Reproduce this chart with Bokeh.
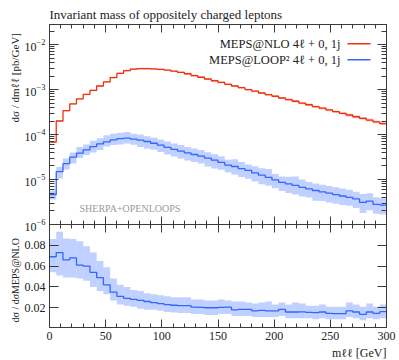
import numpy as np
from bokeh.plotting import figure
from bokeh.models import (Range1d, LinearAxis, LogAxis, Label, BoxAnnotation, Title,
                          FixedTicker, LogTicker, ColumnDataSource, CustomJSTickFormatter)
from bokeh.layouts import column
from bokeh.embed import file_html
from bokeh.resources import INLINE

# ---------------- data ----------------
BIN_LOW = [0, 6, 12, 18, 24, 30, 36, 42, 48, 54, 60, 66, 72, 78, 84, 90, 96, 102, 108, 114,
           120, 126, 132, 138, 144, 150, 156, 162, 168, 174, 180, 186, 192, 198, 204, 210,
           216, 222, 228, 234, 240, 246, 252, 258, 264, 270, 276, 282, 288, 294]
BIN_W = 6

MEPS_NLO = [6.8e-5, 2.0e-4, 3.4e-4, 4.8e-4, 6.2e-4, 7.8e-4, 9.6e-4, 1.2e-3, 1.48e-3, 1.85e-3,
            2.3e-3, 2.65e-3, 2.85e-3, 2.93e-3, 2.93e-3, 2.88e-3, 2.8e-3, 2.7e-3, 2.57e-3, 2.42e-3,
            2.25e-3, 2.05e-3, 1.88e-3, 1.72e-3, 1.57e-3, 1.44e-3, 1.31e-3, 1.2e-3, 1.1e-3, 1.0e-3,
            9.2e-4, 8.4e-4, 7.7e-4, 7.1e-4, 6.5e-4, 6.0e-4, 5.5e-4, 5.0e-4, 4.6e-4, 4.2e-4,
            3.86e-4, 3.53e-4, 3.24e-4, 2.97e-4, 2.72e-4, 2.49e-4, 2.29e-4, 2.1e-4, 1.92e-4, 1.75e-4]
MEPS_NLO_UNC = [0.05, 0.04, 0.04, 0.04, 0.04, 0.04, 0.04, 0.04, 0.04, 0.04,
                0.04, 0.04, 0.04, 0.04, 0.04, 0.04, 0.04, 0.04, 0.04, 0.04,
                0.05, 0.05, 0.05, 0.05, 0.05, 0.05, 0.05, 0.05, 0.05, 0.05,
                0.05, 0.05, 0.05, 0.05, 0.05, 0.06, 0.06, 0.06, 0.06, 0.06,
                0.06, 0.06, 0.06, 0.06, 0.07, 0.07, 0.07, 0.07, 0.07, 0.07]

MEPS_LOOP2 = [4.6e-6, 1.5e-5, 2.25e-5, 3.15e-5, 3.85e-5, 4.55e-5, 5.4e-5, 6.2e-5, 6.9e-5, 7.6e-5,
              8.1e-5, 8.3e-5, 7.9e-5, 7.5e-5, 7.0e-5, 6.4e-5, 5.8e-5, 5.2e-5, 4.7e-5, 4.3e-5,
              3.9e-5, 3.6e-5, 3.3e-5, 3.0e-5, 2.7e-5, 2.4e-5, 2.1e-5, 1.95e-5, 1.75e-5, 1.6e-5,
              1.4e-5, 1.25e-5, 1.12e-5, 9.8e-6, 8.6e-6, 8.0e-6, 7.4e-6, 6.7e-6, 6.2e-6, 5.7e-6,
              5.3e-6, 5.0e-6, 4.6e-6, 4.3e-6, 4.0e-6, 3.7e-6, 3.1e-6, 3.3e-6, 2.8e-6, 2.7e-6]

RATIO = [0.069, 0.073, 0.066, 0.068, 0.061, 0.060, 0.054, 0.049, 0.042, 0.035,
         0.031, 0.029, 0.028, 0.027, 0.026, 0.025, 0.024, 0.023, 0.0224, 0.022,
         0.022, 0.0205, 0.0204, 0.020, 0.020, 0.0204, 0.0205, 0.018, 0.0185, 0.0185,
         0.017, 0.0175, 0.017, 0.0169, 0.0185, 0.0159, 0.0159, 0.016, 0.0155, 0.0153,
         0.0159, 0.0146, 0.0143, 0.0143, 0.0169, 0.0159, 0.0137, 0.0159, 0.0146, 0.0162]
RATIO_HI = [0.086, 0.093, 0.0865, 0.086, 0.084, 0.079, 0.073, 0.065, 0.059, 0.048,
            0.042, 0.040, 0.037, 0.036, 0.034, 0.033, 0.032, 0.031, 0.030, 0.030,
            0.030, 0.028, 0.028, 0.027, 0.027, 0.028, 0.027, 0.026, 0.026, 0.025,
            0.024, 0.025, 0.026, 0.023, 0.025, 0.023, 0.025, 0.024, 0.022, 0.022,
            0.023, 0.021, 0.021, 0.021, 0.025, 0.023, 0.021, 0.024, 0.021, 0.023]
RATIO_LO = [0.054, 0.051, 0.049, 0.049, 0.048, 0.046, 0.040, 0.036, 0.033, 0.027,
            0.023, 0.022, 0.021, 0.019, 0.018, 0.018, 0.017, 0.016, 0.0155, 0.015,
            0.015, 0.014, 0.014, 0.013, 0.013, 0.014, 0.014, 0.012, 0.012, 0.012,
            0.011, 0.011, 0.011, 0.011, 0.012, 0.010, 0.010, 0.010, 0.010, 0.009,
            0.010, 0.009, 0.009, 0.009, 0.011, 0.010, 0.008, 0.010, 0.009, 0.010]

X_MAJOR = [0, 50, 100, 150, 200, 250, 300]
X_MINOR = [10, 20, 30, 40, 60, 70, 80, 90, 110, 120, 130, 140, 160, 170, 180, 190,
           210, 220, 230, 240, 260, 270, 280, 290]
RATIO_TICKS = [0.02, 0.04, 0.06, 0.08]

TITLE = "Invariant mass of oppositely charged leptons"
YLABEL_MAIN = "dσ / dmℓℓ [pb/GeV]"
YLABEL_RATIO = "dσ / dσMEPS@NLO"
XLABEL = "mℓℓ [GeV]"
LEG_NLO = "MEPS@NLO 4ℓ + 0, 1j"
LEG_LOOP = "MEPS@LOOP² 4ℓ + 0, 1j"
WATERMARK = "SHERPA+OPENLOOPS"

# ---------------- derived arrays ----------------
low = np.array(BIN_LOW, dtype=float)
high = low + BIN_W
nlo = np.array(MEPS_NLO)
nlo_unc = np.array(MEPS_NLO_UNC)
loop = np.array(MEPS_LOOP2)
rat = np.array(RATIO)
rat_hi = np.array(RATIO_HI)
rat_lo = np.array(RATIO_LO)

edges = np.append(low, high[-1])

RED = "#EE3311"
BLUE = "#3366FF"
FONT = "Liberation Serif"
AX = "#3a3a3a"
TXT = "#222222"
BLANK = CustomJSTickFormatter(code="return ''")
OVERLAP = 8

# ---------------- main panel ----------------
p1 = figure(width=399, height=224 + OVERLAP, y_axis_type="log",
            x_range=Range1d(0, 300), y_range=Range1d(1e-6, 2.8e-2),
            output_backend="svg", toolbar_location=None,
            min_border_left=49, min_border_right=13, min_border_top=24,
            min_border_bottom=OVERLAP)
p1.grid.visible = False
p1.outline_line_color = AX
p1.background_fill_color = "white"
p1.border_fill_color = "white"
p1.title.text = TITLE
p1.title.align = "left"
p1.title.text_font = FONT
p1.title.text_font_size = "13px"
p1.title.text_font_style = "normal"
p1.title.text_color = TXT
p1.title.standoff = 6

src1 = ColumnDataSource(dict(left=low, right=high,
                             nlo_lo=nlo * (1 - nlo_unc), nlo_hi=nlo * (1 + nlo_unc),
                             loop_lo=loop * rat_lo / rat, loop_hi=loop * rat_hi / rat))
p1.quad(left="left", right="right", bottom="loop_lo", top="loop_hi", source=src1,
        fill_color=BLUE, fill_alpha=0.3, line_color=None)
p1.quad(left="left", right="right", bottom="nlo_lo", top="nlo_hi", source=src1,
        fill_color=RED, fill_alpha=0.3, line_color=None)
p1.step(edges, np.append(nlo, nlo[-1]), mode="after", line_color=RED, line_width=1.3)
p1.step(edges, np.append(loop, loop[-1]), mode="after", line_color=BLUE, line_width=1.3)


def common(ax, labels):
    ax.major_tick_out = 0
    ax.minor_tick_out = 0
    ax.axis_line_color = AX
    ax.major_tick_line_color = AX
    ax.minor_tick_line_color = AX
    if labels:
        ax.major_label_text_font = FONT
        ax.major_label_text_font_size = "12px"
        ax.major_label_text_color = TXT
        ax.major_label_standoff = 4
    else:
        ax.formatter = BLANK
        ax.major_label_text_font_size = "1px"
        ax.major_label_standoff = 0


def style_x(ax, labels):
    ax.ticker = FixedTicker(ticks=X_MAJOR, minor_ticks=X_MINOR)
    ax.major_tick_in = 8
    ax.minor_tick_in = 4
    common(ax, labels)


def style_ylog(ax, labels):
    ax.ticker = LogTicker(num_minor_ticks=10)
    ax.major_tick_in = 9
    ax.minor_tick_in = 5
    common(ax, labels)


def style_ylin(ax, labels):
    ax.ticker = FixedTicker(ticks=RATIO_TICKS)
    ax.major_tick_in = 9
    ax.minor_tick_in = 0
    common(ax, labels)


def side_title(text, align, offset, size):
    return Title(text=text, align=align, offset=offset, standoff=2,
                 text_font=FONT, text_font_size=size, text_font_style="normal",
                 text_color=TXT)


style_x(p1.xaxis[0], False)
style_ylog(p1.yaxis[0], True)
top1 = LinearAxis()
style_x(top1, False)
p1.add_layout(top1, "above")
right1 = LogAxis()
style_ylog(right1, False)
p1.add_layout(right1, "right")
p1.add_layout(side_title(YLABEL_MAIN, "left", 102, "11px"), "left")

p1.add_layout(Label(x=291, y=180.5, x_units="screen", y_units="screen", text=LEG_NLO,
                    text_font=FONT, text_font_size="12.5px", text_color=TXT,
                    text_baseline="middle", text_align="right"))
p1.add_layout(Label(x=291, y=164.5, x_units="screen", y_units="screen", text=LEG_LOOP,
                    text_font=FONT, text_font_size="12.5px", text_color=TXT,
                    text_baseline="middle", text_align="right"))
p1.add_layout(BoxAnnotation(left=298, right=321, bottom=180, top=181.5,
                            left_units="screen", right_units="screen",
                            bottom_units="screen", top_units="screen",
                            fill_color=RED, fill_alpha=1, line_color=None))
p1.add_layout(BoxAnnotation(left=298, right=321, bottom=164, top=165.5,
                            left_units="screen", right_units="screen",
                            bottom_units="screen", top_units="screen",
                            fill_color=BLUE, fill_alpha=1, line_color=None))
p1.add_layout(Label(x=30, y=16, x_units="screen", y_units="screen", text=WATERMARK,
                    text_font=FONT, text_font_size="10px", text_color="#9a9a9a",
                    text_baseline="middle", text_align="left"))

# ---------------- ratio panel ----------------
p2 = figure(width=399, height=136, x_range=p1.x_range, y_range=Range1d(0.001, 0.1),
            output_backend="svg", toolbar_location=None,
            min_border_left=49, min_border_right=13, min_border_top=0, min_border_bottom=33)
p2.grid.visible = False
p2.outline_line_color = AX
p2.background_fill_color = "white"
p2.border_fill_alpha = 0
p2.margin = (-OVERLAP, 0, 0, 0)

src2 = ColumnDataSource(dict(left=low, right=high, lo=rat_lo, hi=rat_hi))
p2.quad(left="left", right="right", bottom="lo", top="hi", source=src2,
        fill_color=BLUE, fill_alpha=0.3, line_color=None)
p2.step(edges, np.append(rat, rat[-1]), mode="after", line_color=BLUE, line_width=1.3)

style_x(p2.xaxis[0], True)
top2 = LinearAxis()
style_x(top2, False)
p2.add_layout(top2, "above")
style_ylin(p2.yaxis[0], True)
right2 = LinearAxis()
style_ylin(right2, False)
p2.add_layout(right2, "right")
p2.add_layout(side_title(YLABEL_RATIO, "left", 5, "10px"), "left")
p2.add_layout(side_title(XLABEL, "right", 0, "12px"), "below")

layout = column(p1, p2, spacing=0)
open("out.html", "w").write(file_html(layout, INLINE))
